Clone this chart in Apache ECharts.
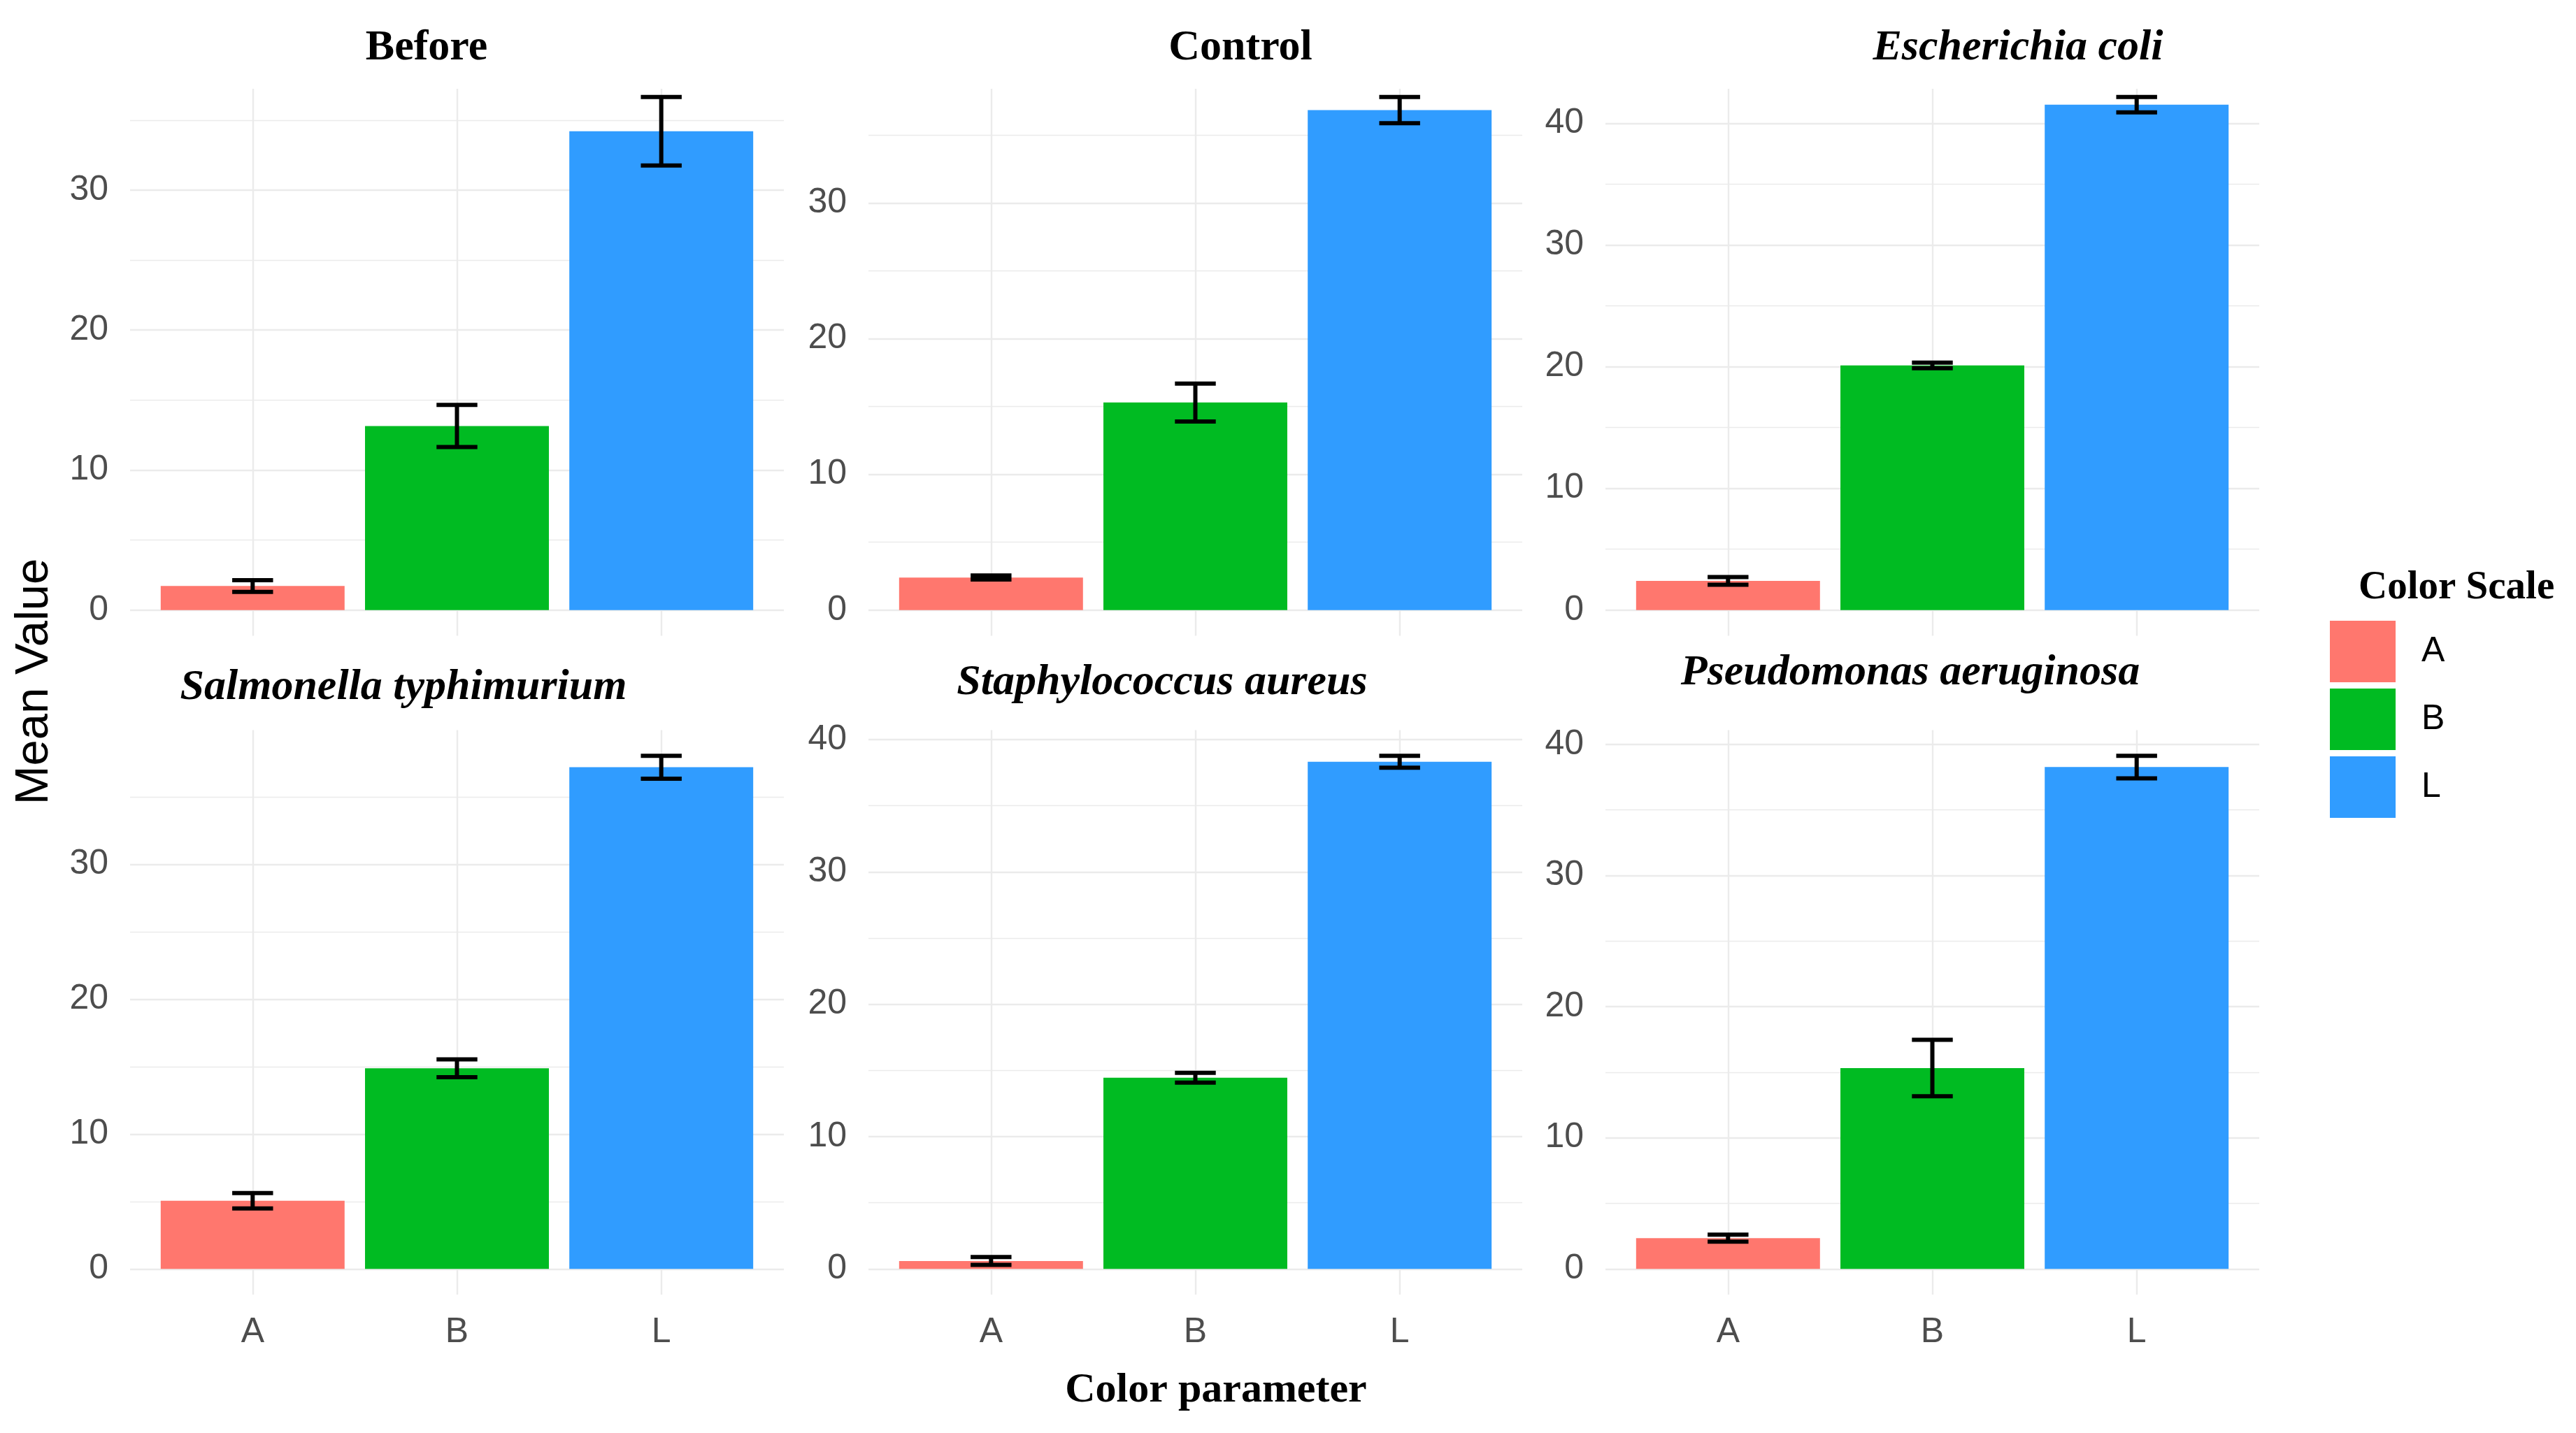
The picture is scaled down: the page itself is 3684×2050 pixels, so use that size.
<!DOCTYPE html>
<html>
<head>
<meta charset="utf-8">
<script src="https://cdn.jsdelivr.net/npm/echarts@6/dist/echarts.min.js"></script>
<style>
html,body{margin:0;padding:0;background:#fff;}
#chart{width:3684px;height:2050px;}
</style>
</head>
<body>
<div id="chart"></div>
<script>
// ---- data ----
const categories = ['A', 'B', 'L'];
const panelTitles = ['Before', 'Control', 'Escherichia coli',
  'Salmonella typhimurium', 'Staphylococcus aureus', 'Pseudomonas aeruginosa'];
const meanA = [1.72, 2.40, 2.40, 5.05, 0.60, 2.35];
const meanB = [13.15, 15.30, 20.10, 14.88, 14.45, 15.32];
const meanL = [34.20, 36.85, 41.53, 37.20, 38.32, 38.27];
const sdA = [0.42, 0.15, 0.31, 0.57, 0.30, 0.27];
const sdB = [1.50, 1.40, 0.23, 0.66, 0.37, 2.15];
const sdL = [2.45, 0.97, 0.63, 0.85, 0.45, 0.86];
const majorTicks = [0, 10, 20, 30, 40];
const minorTicks = [5, 15, 25, 35, 45];

// ---- layout / style ----
const colors = ['#FF776E', '#00BB22', '#309CFF'];
const titleItalic = [false, false, true, true, true, true];
const titleX = [610, 1774, 2886, 577, 1662, 2732];
const titleBaseline = [90, 90, 90, 1005, 998, 984];
const colLeft = [186, 1242, 2296];
const rowTop = [102, 1044.5];
const hiddenTop = 25;   // top strip of the upper panels is not drawn in the source
const gridW = 935, gridH = 807.5;
const xMin = 0.4, xMax = 3.6;
const sansFont = '"Liberation Sans", Arial, sans-serif';
const serifFont = '"Liberation Serif", "Times New Roman", serif';
const gridColor = '#EBEBEB';

const chart = echarts.init(document.getElementById('chart'), null, {renderer: 'canvas'});

const grids = [], xAxes = [], yAxes = [], series = [], graphics = [];
const barW = gridW / (xMax - xMin) * 0.9;

for (let i = 0; i < 6; i++) {
  const row = Math.floor(i / 3), col = i % 3;
  const vals = [meanA[i], meanB[i], meanL[i]];
  const sds = [sdA[i], sdB[i], sdL[i]];
  let top = 0;
  vals.forEach((v, k) => { top = Math.max(top, v + sds[k]); });
  const ext = 0.05 * top;
  const ymin = -ext, ymax = top + ext;

  grids.push({left: colLeft[col], top: rowTop[row], width: gridW, height: gridH});
  xAxes.push({
    type: 'value', gridIndex: i, min: xMin, max: xMax,
    axisLine: {show: false},
    axisTick: {show: false, customValues: [1, 2, 3]},
    splitLine: {show: true, lineStyle: {color: gridColor, width: 2.4}},
    axisLabel: {
      show: row === 1, customValues: [1, 2, 3], margin: 29,
      formatter: v => categories[Math.round(v) - 1],
      fontFamily: sansFont, fontSize: 50, color: '#4D4D4D'
    }
  });
  yAxes.push({
    type: 'value', gridIndex: i, min: ymin, max: ymax, position: 'left',
    axisLine: {show: false},
    axisTick: {show: false, customValues: majorTicks},
    splitLine: {show: true, lineStyle: {color: gridColor, width: 2.4}},
    axisLabel: {
      customValues: majorTicks, margin: 31,
      fontFamily: sansFont, fontSize: 50, color: '#4D4D4D'
    }
  });
  yAxes.push({
    type: 'value', gridIndex: i, min: ymin, max: ymax, position: 'left',
    axisLine: {show: false},
    axisTick: {show: false, customValues: minorTicks},
    splitLine: {show: true, lineStyle: {color: gridColor, width: 1.4}},
    axisLabel: {show: false}
  });

  categories.forEach((c, k) => {
    series.push({
      type: 'bar', name: c, xAxisIndex: i, yAxisIndex: 2 * i,
      barWidth: barW, barGap: '-100%',
      itemStyle: {color: colors[k]},
      data: [[k + 1, vals[k]]],
      silent: true, z: 2
    });
  });
  series.push({
    type: 'custom', name: 'err' + i, xAxisIndex: i, yAxisIndex: 2 * i, z: 5, silent: true,
    data: vals.map((v, k) => [k + 1, v - sds[k], v + sds[k]]),
    renderItem: function (params, api) {
      const x = api.value(0), lo = api.value(1), hi = api.value(2);
      const pLo = api.coord([x, lo]), pHi = api.coord([x, hi]);
      const hw = api.size([0.1, 0])[0];
      const st = {stroke: '#000', lineWidth: 6, fill: null};
      return {type: 'group', children: [
        {type: 'line', shape: {x1: pLo[0], y1: pLo[1], x2: pHi[0], y2: pHi[1]}, style: st},
        {type: 'line', shape: {x1: pHi[0] - hw, y1: pHi[1], x2: pHi[0] + hw, y2: pHi[1]}, style: st},
        {type: 'line', shape: {x1: pLo[0] - hw, y1: pLo[1], x2: pLo[0] + hw, y2: pLo[1]}, style: st}
      ]};
    }
  });

  if (row === 0) {
    graphics.push({
      type: 'rect', z: 1, silent: true,
      shape: {x: colLeft[col] - 2, y: rowTop[row] - 2, width: gridW + 4, height: hiddenTop + 2},
      style: {fill: '#fff'}
    });
  }

  graphics.push({
    type: 'text', x: titleX[i], y: titleBaseline[i] - 0.34 * 62, z: 10,
    style: {
      text: panelTitles[i], fill: '#000',
      font: (titleItalic[i] ? 'italic ' : '') + 'bold 62px ' + serifFont,
      align: 'center', verticalAlign: 'middle'
    }
  });
}

graphics.push({
  type: 'text', x: 1739, y: 2010 - 0.34 * 60, z: 10,
  style: {text: 'Color parameter', fill: '#000', font: 'bold 60px ' + serifFont,
    align: 'center', verticalAlign: 'middle'}
});
graphics.push({
  type: 'text', x: 3373, y: 860 - 0.34 * 56, z: 10,
  style: {text: 'Color Scale', fill: '#000', font: 'bold 57px ' + serifFont,
    align: 'left', verticalAlign: 'middle'}
});
graphics.push({
  type: 'text', x: 50, y: 975, rotation: Math.PI / 2, z: 10,
  style: {text: 'Mean Value', fill: '#000', font: '67px ' + sansFont,
    align: 'center', verticalAlign: 'middle'}
});

chart.setOption({
  backgroundColor: '#fff',
  animation: false,
  grid: grids,
  xAxis: xAxes,
  yAxis: yAxes,
  legend: {
    data: categories, orient: 'vertical', left: 3332, top: 888,
    itemWidth: 94, itemHeight: 88, itemGap: 9, icon: 'rect', padding: 0,
    selectedMode: false,
    textStyle: {fontFamily: sansFont, fontSize: 50, color: '#000', padding: [0, 0, 0, 32]}
  },
  graphic: graphics,
  series: series
});
</script>
</body>
</html>
